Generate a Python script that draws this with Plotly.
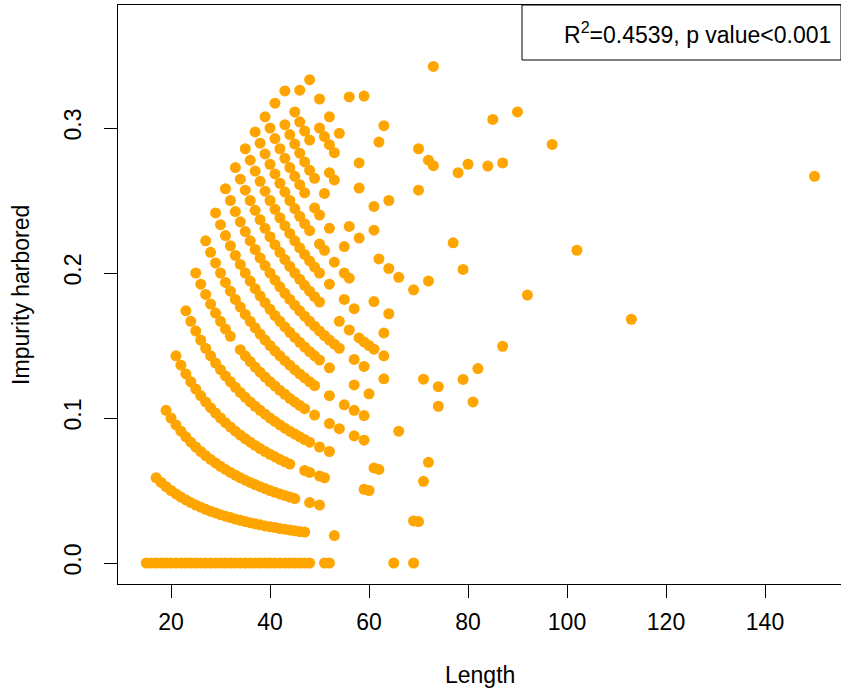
import plotly.graph_objects as go

# Sequence length (x) and fraction of impurity harbored (y),
# grouped by the number of impure sites in each sequence.
len_0 = [15, 16, 17, 18, 19, 20, 21, 22, 23, 24, 25, 26, 27, 28, 29, 30, 31, 32, 33, 34,
         35, 36, 37, 38, 39, 40, 41, 42, 43, 44, 45, 46, 47, 48, 51, 52, 65, 69]
imp_0 = [0.0, 0.0, 0.0, 0.0, 0.0, 0.0, 0.0, 0.0, 0.0, 0.0, 0.0, 0.0, 0.0, 0.0, 0.0, 0.0,
         0.0, 0.0, 0.0, 0.0, 0.0, 0.0, 0.0, 0.0, 0.0, 0.0, 0.0, 0.0, 0.0, 0.0, 0.0, 0.0,
         0.0, 0.0, 0.0, 0.0, 0.0, 0.0]

len_1 = [17, 18, 19, 20, 21, 22, 23, 24, 25, 26, 27, 28, 29, 30, 31, 32, 33, 34, 35, 36,
         37, 38, 39, 40, 41, 42, 43, 44, 45, 46, 47, 53]
imp_1 = [0.0588, 0.0556, 0.0526, 0.05, 0.0476, 0.0455, 0.0435, 0.0417, 0.04, 0.0385,
         0.037, 0.0357, 0.0345, 0.0333, 0.0323, 0.0313, 0.0303, 0.0294, 0.0286, 0.0278,
         0.027, 0.0263, 0.0256, 0.025, 0.0244, 0.0238, 0.0233, 0.0227, 0.0222, 0.0217,
         0.0213, 0.0189]

len_2 = [19, 20, 21, 22, 23, 24, 25, 26, 27, 28, 29, 30, 31, 32, 33, 34, 35, 36, 37, 38,
         39, 40, 41, 42, 43, 44, 45, 48, 50, 69, 70]
imp_2 = [0.1053, 0.1, 0.0952, 0.0909, 0.087, 0.0833, 0.08, 0.0769, 0.0741, 0.0714,
         0.069, 0.0667, 0.0645, 0.0625, 0.0606, 0.0588, 0.0571, 0.0556, 0.0541, 0.0526,
         0.0513, 0.05, 0.0488, 0.0476, 0.0465, 0.0455, 0.0444, 0.0417, 0.04, 0.029, 0.0286]

len_3 = [21, 22, 23, 24, 25, 26, 27, 28, 29, 30, 31, 32, 33, 34, 35, 36, 37, 38, 39, 40,
         41, 42, 43, 44, 47, 48, 50, 51, 59, 60]
imp_3 = [0.1429, 0.1364, 0.1304, 0.125, 0.12, 0.1154, 0.1111, 0.1071, 0.1034, 0.1,
         0.0968, 0.0938, 0.0909, 0.0882, 0.0857, 0.0833, 0.0811, 0.0789, 0.0769, 0.075,
         0.0732, 0.0714, 0.0698, 0.0682, 0.0638, 0.0625, 0.06, 0.0588, 0.0508, 0.05]

len_4 = [23, 24, 25, 26, 27, 28, 29, 30, 31, 32, 33, 34, 35, 36, 37, 38, 39, 40, 41, 42,
         43, 44, 45, 46, 47, 48, 50, 52, 61, 62, 71]
imp_4 = [0.1739, 0.1667, 0.16, 0.1538, 0.1481, 0.1429, 0.1379, 0.1333, 0.129, 0.125,
         0.1212, 0.1176, 0.1143, 0.1111, 0.1081, 0.1053, 0.1026, 0.1, 0.0976, 0.0952,
         0.093, 0.0909, 0.0889, 0.087, 0.0851, 0.0833, 0.08, 0.0769, 0.0656, 0.0645,
         0.0563]

len_5 = [25, 26, 27, 28, 29, 30, 31, 32, 34, 35, 36, 37, 38, 39, 40, 41, 42, 43, 44, 45,
         46, 47, 49, 52, 54, 57, 59, 72]
imp_5 = [0.2, 0.1923, 0.1852, 0.1786, 0.1724, 0.1667, 0.1613, 0.1563, 0.1471, 0.1429,
         0.1389, 0.1351, 0.1316, 0.1282, 0.125, 0.122, 0.119, 0.1163, 0.1136, 0.1111,
         0.1087, 0.1064, 0.102, 0.0962, 0.0926, 0.0877, 0.0847, 0.0694]

len_6 = [27, 28, 29, 30, 31, 32, 33, 34, 35, 36, 37, 38, 39, 40, 41, 42, 43, 44, 45, 46,
         47, 48, 49, 52, 55, 57, 59, 66]
imp_6 = [0.2222, 0.2143, 0.2069, 0.2, 0.1935, 0.1875, 0.1818, 0.1765, 0.1714, 0.1667,
         0.1622, 0.1579, 0.1538, 0.15, 0.1463, 0.1429, 0.1395, 0.1364, 0.1333, 0.1304,
         0.1277, 0.125, 0.1224, 0.1154, 0.1091, 0.1053, 0.1017, 0.0909]

len_7 = [29, 30, 31, 32, 33, 34, 35, 36, 37, 38, 39, 40, 41, 42, 43, 44, 45, 46, 47, 48,
         49, 50, 52, 57, 60]
imp_7 = [0.2414, 0.2333, 0.2258, 0.2188, 0.2121, 0.2059, 0.2, 0.1944, 0.1892, 0.1842,
         0.1795, 0.175, 0.1707, 0.1667, 0.1628, 0.1591, 0.1556, 0.1522, 0.1489, 0.1458,
         0.1429, 0.14, 0.1346, 0.1228, 0.1167]

len_8 = [31, 32, 33, 34, 35, 36, 37, 38, 39, 40, 41, 42, 43, 44, 45, 46, 47, 48, 49, 50,
         51, 52, 53, 54, 57, 59, 63, 74]
imp_8 = [0.2581, 0.25, 0.2424, 0.2353, 0.2286, 0.2222, 0.2162, 0.2105, 0.2051, 0.2,
         0.1951, 0.1905, 0.186, 0.1818, 0.1778, 0.1739, 0.1702, 0.1667, 0.1633, 0.16,
         0.1569, 0.1538, 0.1509, 0.1481, 0.1404, 0.1356, 0.127, 0.1081]

len_9 = [33, 34, 35, 36, 37, 38, 39, 40, 41, 42, 43, 44, 45, 46, 47, 48, 49, 50, 54, 56,
         58, 59, 60, 61, 63, 71, 74, 81]
imp_9 = [0.2727, 0.2647, 0.2571, 0.25, 0.2432, 0.2368, 0.2308, 0.225, 0.2195, 0.2143,
         0.2093, 0.2045, 0.2, 0.1957, 0.1915, 0.1875, 0.1837, 0.18, 0.1667, 0.1607,
         0.1552, 0.1525, 0.15, 0.1475, 0.1429, 0.1268, 0.1216, 0.1111]

len_10 = [35, 36, 37, 38, 39, 40, 41, 42, 43, 44, 45, 46, 47, 48, 49, 50, 52, 55, 57, 63,
          79]
imp_10 = [0.2857, 0.2778, 0.2703, 0.2632, 0.2564, 0.25, 0.2439, 0.2381, 0.2326, 0.2273,
          0.2222, 0.2174, 0.2128, 0.2083, 0.2041, 0.2, 0.1923, 0.1818, 0.1754, 0.1587,
          0.1266]

len_11 = [37, 38, 39, 40, 41, 42, 43, 44, 45, 46, 47, 48, 50, 51, 53, 55, 56, 61, 64, 82]
imp_11 = [0.2973, 0.2895, 0.2821, 0.275, 0.2683, 0.2619, 0.2558, 0.25, 0.2444, 0.2391,
          0.234, 0.2292, 0.22, 0.2157, 0.2075, 0.2, 0.1964, 0.1803, 0.1719, 0.1341]

len_12 = [39, 40, 41, 42, 43, 44, 45, 46, 47, 49, 50, 52, 55]
imp_12 = [0.3077, 0.3, 0.2927, 0.2857, 0.2791, 0.2727, 0.2667, 0.2609, 0.2553, 0.2449,
          0.24, 0.2308, 0.2182]

len_13 = [41, 43, 44, 45, 46, 47, 48, 49, 51, 56, 58, 62, 64, 66, 69, 87]
imp_13 = [0.3171, 0.3023, 0.2955, 0.2889, 0.2826, 0.2766, 0.2708, 0.2653, 0.2549, 0.2321,
          0.2241, 0.2097, 0.2031, 0.197, 0.1884, 0.1494]

len_14 = [43, 45, 46, 47, 48, 52, 53, 61, 72]
imp_14 = [0.3256, 0.3111, 0.3043, 0.2979, 0.2917, 0.2692, 0.2642, 0.2295, 0.1944]

len_15 = [46, 50, 51, 52, 53, 58, 61]
imp_15 = [0.3261, 0.3, 0.2941, 0.2885, 0.283, 0.2586, 0.2459]

len_16 = [48, 50, 52, 54, 58, 64, 79]
imp_16 = [0.3333, 0.32, 0.3077, 0.2963, 0.2759, 0.25, 0.2025]

# sequences with 17 or more impure sites
len_17up = [77, 92, 56, 62, 70, 59, 63, 113, 70, 72, 73, 78, 80, 102, 84, 87, 73, 85, 90,
            97, 150]
imp_17up = [0.2208, 0.1848, 0.3214, 0.2903, 0.2571, 0.322, 0.3016, 0.1681, 0.2857, 0.2778,
            0.274, 0.2692, 0.275, 0.2157, 0.2738, 0.2759, 0.3425, 0.3059, 0.3111, 0.2887,
            0.2667]

x_ticks = [20, 40, 60, 80, 100, 120, 140]
y_ticks = [0.0, 0.1, 0.2, 0.3]
y_tick_text = ["0.0", "0.1", "0.2", "0.3"]
fit_label = "R<sup>2</sup>=0.4539, p value&lt;0.001"

groups = [
    (len_0, imp_0), (len_1, imp_1), (len_2, imp_2), (len_3, imp_3), (len_4, imp_4),
    (len_5, imp_5), (len_6, imp_6), (len_7, imp_7), (len_8, imp_8), (len_9, imp_9),
    (len_10, imp_10), (len_11, imp_11), (len_12, imp_12), (len_13, imp_13),
    (len_14, imp_14), (len_15, imp_15), (len_16, imp_16), (len_17up, imp_17up),
]
length = [v for xs, _ in groups for v in xs]
impurity = [v for _, ys in groups for v in ys]

FONT = "Liberation Sans, Arial, Helvetica, sans-serif"
TEXT = dict(family=FONT, size=23, color="black")

fig = go.Figure(
    go.Scatter(
        x=length,
        y=impurity,
        mode="markers",
        marker=dict(color="#FFA500", size=11, line=dict(width=0)),
        showlegend=False,
    )
)

fig.update_layout(
    width=841,
    height=694,
    margin=dict(l=118, r=0, t=5, b=110),
    paper_bgcolor="white",
    plot_bgcolor="white",
    font=TEXT,
    showlegend=False,
)

axis_style = dict(
    ticks="outside",
    ticklen=13,
    tickwidth=1,
    tickcolor="black",
    tickfont=TEXT,
    showline=True,
    mirror=True,
    linecolor="black",
    linewidth=1,
    showgrid=False,
    zeroline=False,
)

fig.update_xaxes(range=[9.29, 155.35], tickvals=x_ticks, ticklabelstandoff=4, **axis_style)
fig.update_yaxes(range=[-0.01448, 0.38483], tickvals=y_ticks, ticktext=y_tick_text,
                 tickangle=-90, ticklabelstandoff=14, **axis_style)

# axis titles
fig.add_annotation(text="Length", xref="paper", yref="paper", x=0.5, y=-0.157,
                   xanchor="center", yanchor="middle", showarrow=False, font=TEXT)
fig.add_annotation(text="Impurity harbored", xref="paper", yref="paper", x=-0.135, y=0.5,
                   textangle=-90, xanchor="center", yanchor="middle", showarrow=False,
                   font=TEXT)

# regression summary box in the top-right corner
fig.add_shape(type="rect", xref="paper", yref="paper", x0=0.5588, x1=1.0, y0=0.905, y1=1.0,
              line=dict(color="black", width=1), fillcolor="white", layer="above")
fig.add_annotation(text=fit_label, xref="paper", yref="paper", x=0.8022, y=0.9516,
                   xanchor="center", yanchor="middle", showarrow=False, font=TEXT)

fig.write_html("out.html")
